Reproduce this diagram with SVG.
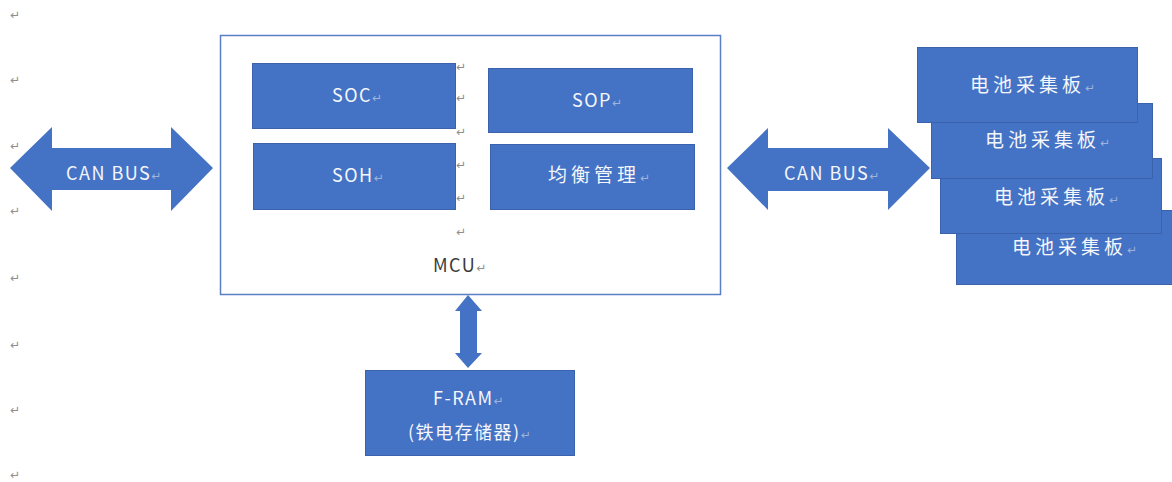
<svg xmlns="http://www.w3.org/2000/svg" width="1172" height="482" viewBox="0 0 1172 482">
  <style>
    .blk { fill: #4472C4; stroke: #3B63AD; stroke-width: 1; }
    .frame { fill: #FFFFFF; stroke: #5B7FC6; stroke-width: 1.5; }
    .arrow { fill: #4472C4; }
    .lbl { font-family: "Noto Sans CJK SC", "Noto Sans", sans-serif; font-size: 18px; fill: #F4F6FB; letter-spacing: 1.5px; }
    .cjk { font-size: 19px; letter-spacing: 4px; }
    .dark { fill: #3A3A3A; }
    .pm { font-family: "DejaVu Sans", sans-serif; font-size: 12px; fill: #8E8E8E; letter-spacing: 0; }
    .pmw { font-family: "DejaVu Sans", sans-serif; font-size: 12px; fill: #9FB3DC; letter-spacing: 0; }
  </style>

  <!-- paragraph marks down the left margin -->
  <g id="margin-marks" class="pm">
    <text x="10" y="19">↵</text>
    <text x="10" y="84">↵</text>
    <text x="10" y="150">↵</text>
    <text x="10" y="215">↵</text>
    <text x="10" y="282">↵</text>
    <text x="10" y="349">↵</text>
    <text x="10" y="414">↵</text>
    <text x="10" y="479">↵</text>
  </g>

  <!-- MCU container -->
  <g id="mcu">
    <rect class="frame" x="220.5" y="35.5" width="500" height="259"/>
    <text class="lbl dark" x="433" y="272" font-size="17">MCU<tspan class="pm">↵</tspan></text>
  </g>

  <!-- paragraph marks between the inner blocks -->
  <g id="inner-marks" class="pm">
    <text x="456" y="71">↵</text>
    <text x="456" y="102">↵</text>
    <text x="456" y="136">↵</text>
    <text x="456" y="169">↵</text>
    <text x="456" y="202">↵</text>
    <text x="456" y="236">↵</text>
  </g>

  <g id="soc">
    <rect class="blk" x="252.5" y="63.5" width="203" height="65"/>
    <text class="lbl" x="332" y="102">SOC<tspan class="pmw">↵</tspan></text>
  </g>
  <g id="sop">
    <rect class="blk" x="488.5" y="68.5" width="204" height="64"/>
    <text class="lbl" x="572" y="107">SOP<tspan class="pmw">↵</tspan></text>
  </g>
  <g id="soh">
    <rect class="blk" x="253.5" y="143.5" width="202" height="66"/>
    <text class="lbl" x="332" y="182">SOH<tspan class="pmw">↵</tspan></text>
  </g>
  <g id="balance">
    <rect class="blk" x="490.5" y="144.5" width="204" height="65"/>
    <text class="lbl cjk" x="548" y="182">均衡管理<tspan class="pmw">↵</tspan></text>
  </g>

  <!-- stacked acquisition boards, back to front -->
  <g id="board4">
    <rect class="blk" x="956.5" y="210.5" width="220" height="74"/>
    <text class="lbl cjk" x="1012" y="254">电池采集板<tspan class="pmw">↵</tspan></text>
  </g>
  <g id="board3">
    <rect class="blk" x="940.5" y="158.5" width="221" height="75"/>
    <text class="lbl cjk" x="994" y="204">电池采集板<tspan class="pmw">↵</tspan></text>
  </g>
  <g id="board2">
    <rect class="blk" x="931.5" y="103.5" width="221" height="75"/>
    <text class="lbl cjk" x="985" y="147">电池采集板<tspan class="pmw">↵</tspan></text>
  </g>
  <g id="board1">
    <rect class="blk" x="917.5" y="47.5" width="220" height="75"/>
    <text class="lbl cjk" x="970" y="92">电池采集板<tspan class="pmw">↵</tspan></text>
  </g>

  <g id="fram">
    <rect class="blk" x="365.5" y="370.5" width="209" height="85"/>
    <text class="lbl" x="433" y="405" letter-spacing="3.5">F-RAM<tspan class="pmw">↵</tspan></text>
    <text class="lbl" x="408" y="439" letter-spacing="3.5">(铁电存储器)<tspan class="pmw">↵</tspan></text>
  </g>

  <!-- connectors: double-headed block arrows -->
  <g id="connectors">
    <g id="can-left">
      <polygon class="arrow" points="10,168 52,127 52,148 171,148 171,127 213,168 171,211 171,190 52,190 52,211"/>
      <text class="lbl" x="66" y="180" letter-spacing="2">CAN BUS<tspan class="pmw">↵</tspan></text>
    </g>
    <g id="can-right">
      <polygon class="arrow" points="727,168 768,128 768,148 888,148 888,128 930,168 888,210 888,191 768,191 768,210"/>
      <text class="lbl" x="784" y="180" letter-spacing="2">CAN BUS<tspan class="pmw">↵</tspan></text>
    </g>
    <polygon id="mcu-fram" class="arrow" points="468,295 482,311 477,311 477,353 482,353 468,368 455,353 460,353 460,311 455,311"/>
  </g>
</svg>
